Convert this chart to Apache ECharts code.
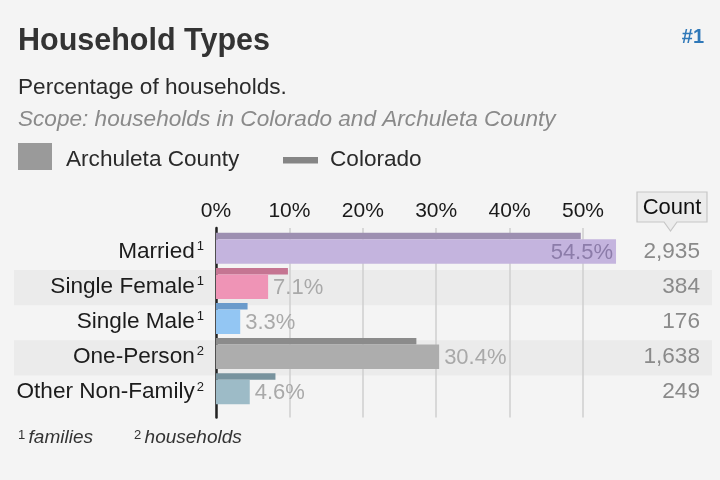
<!DOCTYPE html>
<html>
<head>
<meta charset="utf-8">
<script src="https://cdn.jsdelivr.net/npm/echarts@6/dist/echarts.min.js"></script>
<style>
html,body{margin:0;padding:0;background:#f4f4f4;}
#chart{width:720px;height:480px;}
</style>
</head>
<body>
<div id="chart"></div>
<script>
// ---- data ----
const categories = ['Married', 'Single Female', 'Single Male', 'One-Person', 'Other Non-Family'];
const footnoteMarks = ['1', '1', '1', '2', '2'];
const countyPct = [54.5, 7.1, 3.3, 30.4, 4.6];      // Archuleta County
const coloradoPct = [49.7, 9.8, 4.3, 27.3, 8.1];    // Colorado
const counts = ['2,935', '384', '176', '1,638', '249'];
const countyColors = ['#c4b4de', '#ef94b6', '#93c6f3', '#adadad', '#9dbbc7'];
const coloradoColors = ['#9d8fb1', '#c57592', '#6b9bcb', '#8b8b8b', '#78939e'];
const xTickLabels = ['0%', '10%', '20%', '30%', '40%', '50%'];

const FONT = '"Liberation Sans", "Helvetica Neue", Arial, sans-serif';
const chart = echarts.init(document.getElementById('chart'), null, {renderer: 'canvas'});

const rowData = categories.map((c, i) => [i]);
const barData = countyPct.map((v, i) => [i, v, coloradoPct[i]]);

function renderRows(params, api) {
  const i = api.value(0);
  const top = api.coord([0, i])[1];
  const bot = api.coord([0, i + 1])[1];
  const cy = (top + bot) / 2 - 1;
  const x0 = api.coord([0, 0])[0];
  const children = [];
  if (i % 2 === 1) {
    children.push({type: 'rect', shape: {x: 14, y: top, width: 698, height: bot - top},
      style: {fill: '#ebebeb'}, silent: true});
  }
  children.push({type: 'text', style: {
    x: x0 - 12, y: cy, align: 'right', verticalAlign: 'middle',
    text: '{n|' + categories[i] + '}{s|' + footnoteMarks[i] + '}',
    rich: {
      n: {fontSize: 22.6, fontFamily: FONT, fill: '#1c1c1c'},
      s: {fontSize: 13, fontFamily: FONT, fill: '#1c1c1c', verticalAlign: 'top', padding: [0, 0, 0, 2]}
    }
  }});
  children.push({type: 'text', style: {
    x: 700, y: cy, align: 'right', verticalAlign: 'middle',
    text: counts[i], fontSize: 22.6, fontFamily: FONT, fill: '#8a8a8a'
  }});
  return {type: 'group', children: children};
}

function renderBars(params, api) {
  const i = api.value(0);
  const v = api.value(1);
  const c = api.value(2);
  const p0 = api.coord([0, i + 0.5]);
  const pv = api.coord([v, i + 0.5]);
  const pc = api.coord([c, i + 0.5]);
  const cy = p0[1] - 1;
  const h = 24.5, hc = 6.5;
  const inside = v > 45;
  return {type: 'group', children: [
    {type: 'rect', shape: {x: p0[0], y: cy - h / 2 - hc, width: pc[0] - p0[0], height: hc},
      style: {fill: coloradoColors[i]}},
    {type: 'rect', shape: {x: p0[0], y: cy - h / 2, width: pv[0] - p0[0], height: h},
      style: {fill: countyColors[i]}},
    {type: 'text', style: {
      x: inside ? pv[0] - 3 : pv[0] + 5, y: cy + 1,
      align: inside ? 'right' : 'left', verticalAlign: 'middle',
      text: v.toFixed(1) + '%', fontSize: 22, fontFamily: FONT,
      fill: inside ? '#8c7ca9' : '#a9a9a9'
    }}
  ]};
}

const option = {
  backgroundColor: '#f4f4f4',
  animation: false,
  grid: {left: 216, top: 228, width: 55 * 7.34, height: 189.5, containLabel: false},
  xAxis: {
    type: 'value', position: 'top', min: 0, max: 55, interval: 10,
    axisLine: {show: false}, axisTick: {show: false},
    axisLabel: {
      showMaxLabel: false, margin: 6,
      formatter: function (v) { return xTickLabels[v / 10] || ''; },
      fontSize: 21, fontFamily: FONT, color: '#1a1a1a'
    },
    splitLine: {show: true, showMaxLine: false, lineStyle: {color: '#cfcfcf', width: 1.5}}
  },
  yAxis: {
    type: 'value', inverse: true, min: -0.2, max: 5.2,
    axisLine: {show: true, lineStyle: {color: '#222', width: 2.5}},
    axisTick: {show: false}, axisLabel: {show: false}, splitLine: {show: false}
  },
  series: [
    {type: 'custom', name: 'rows', data: rowData, renderItem: renderRows, z: -10, silent: true},
    {type: 'custom', name: 'bars', data: barData, renderItem: renderBars, z: 5, silent: true}
  ],
  graphic: [
    {type: 'text', style: {x: 18, y: 42, text: 'Household Types', fontSize: 30.5, fontWeight: 'bold',
      fontFamily: FONT, fill: '#333', verticalAlign: 'middle'}},
    {type: 'text', style: {x: 704, y: 37, text: '#1', fontSize: 20, fontWeight: 'bold',
      fontFamily: FONT, fill: '#2f78b8', align: 'right', verticalAlign: 'middle'}},
    {type: 'text', style: {x: 18, y: 88, text: 'Percentage of households.', fontSize: 22.6,
      fontFamily: FONT, fill: '#2a2a2a', verticalAlign: 'middle'}},
    {type: 'text', style: {x: 18, y: 120, text: 'Scope: households in Colorado and Archuleta County',
      fontSize: 22.6, fontStyle: 'italic', fontFamily: FONT, fill: '#8a8a8a', verticalAlign: 'middle'}},
    {type: 'rect', shape: {x: 18, y: 143, width: 34, height: 27}, style: {fill: '#9a9a9a'}},
    {type: 'text', style: {x: 66, y: 160, text: 'Archuleta County', fontSize: 22.6,
      fontFamily: FONT, fill: '#2a2a2a', verticalAlign: 'middle'}},
    {type: 'rect', shape: {x: 283, y: 157, width: 35, height: 6.5}, style: {fill: '#858585'}},
    {type: 'text', style: {x: 330, y: 160, text: 'Colorado', fontSize: 22.6,
      fontFamily: FONT, fill: '#2a2a2a', verticalAlign: 'middle'}},
    {type: 'polygon', shape: {points: [[637, 192], [707, 192], [707, 222], [677, 222], [670.5, 231], [664, 222], [637, 222]]},
      style: {fill: '#ececec', stroke: '#c6c6c6', lineWidth: 1.2}},
    {type: 'text', style: {x: 672, y: 208, text: 'Count', fontSize: 22, fontFamily: FONT,
      fill: '#111', align: 'center', verticalAlign: 'middle'}},
    {type: 'text', style: {x: 18, y: 438, text: '{s|1} {i|families}', verticalAlign: 'middle',
      rich: {s: {fontSize: 13, fontFamily: FONT, fill: '#333', verticalAlign: 'top'},
             i: {fontSize: 19, fontStyle: 'italic', fontFamily: FONT, fill: '#333'}}}},
    {type: 'text', style: {x: 134, y: 438, text: '{s|2} {i|households}', verticalAlign: 'middle',
      rich: {s: {fontSize: 13, fontFamily: FONT, fill: '#333', verticalAlign: 'top'},
             i: {fontSize: 19, fontStyle: 'italic', fontFamily: FONT, fill: '#333'}}}}
  ]
};
chart.setOption(option);
</script>
</body>
</html>
